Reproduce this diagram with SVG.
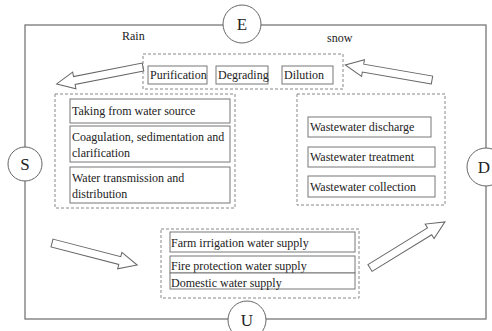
<svg xmlns="http://www.w3.org/2000/svg" width="492" height="331" viewBox="0 0 492 331">
<style>
  text { font-family: "Liberation Serif", "Times New Roman", serif; fill: #222; }
  .t { font-size: 12px; }
  .big { font-size: 17px; text-anchor: middle; }
  .box { fill: #fff; stroke: #777; stroke-width: 1; }
  .dash { fill: none; stroke: #888; stroke-width: 1; stroke-dasharray: 3 2; }
  .circ { fill: #fff; stroke: #666; stroke-width: 1; }
  .arr { fill: #fff; stroke: #666; stroke-width: 1; }
</style>
<defs>
  <polygon id="arrow" points="0,-4 70,-4 70,-8.5 88,0 70,8.5 70,4 0,4"/>
</defs>
<rect width="492" height="331" fill="#fff"/>
<g id="frame">
  <rect x="25" y="25" width="461" height="294" fill="none" stroke="#777" stroke-width="1.3"/>
</g>
<g id="connectors">
  <use href="#arrow" class="arr" transform="translate(143,67) rotate(168.9)"/>
  <use href="#arrow" class="arr" transform="translate(432,80) rotate(-170.2)"/>
  <use href="#arrow" class="arr" transform="translate(52,243) rotate(14.5)"/>
  <use href="#arrow" class="arr" transform="translate(370,268) rotate(-31.6)"/>
</g>
<g id="node-E">
  <circle class="circ" cx="242" cy="24" r="19"/>
  <text class="big" x="242" y="30">E</text>
</g>
<g id="node-S">
  <circle class="circ" cx="25" cy="164" r="17"/>
  <text class="big" x="25" y="170">S</text>
</g>
<g id="node-D">
  <circle class="circ" cx="486" cy="167" r="19"/>
  <text class="big" x="484" y="173">D</text>
</g>
<g id="node-U">
  <circle class="circ" cx="247" cy="320" r="19"/>
  <text class="big" x="247" y="326">U</text>
</g>
<g id="label-rain"><text class="t" x="122" y="40">Rain</text></g>
<g id="label-snow"><text class="t" x="327" y="42">snow</text></g>
<g id="group-top">
  <rect class="dash" x="143" y="54" width="200" height="35"/>
  <rect class="box" x="148" y="66" width="59" height="18"/>
  <text class="t" x="150" y="79">Purification</text>
  <rect class="box" x="216" y="66" width="52" height="18"/>
  <text class="t" x="218" y="79">Degrading</text>
  <rect class="box" x="282" y="66" width="51" height="18"/>
  <text class="t" x="284" y="79">Dilution</text>
</g>
<g id="group-left">
  <rect class="dash" x="55" y="94" width="180" height="114"/>
  <rect class="box" x="70" y="99" width="160" height="24"/>
  <text class="t" x="72" y="115">Taking from water source</text>
  <rect class="box" x="70" y="126" width="160" height="36"/>
  <text class="t" x="72" y="141">Coagulation, sedimentation and</text>
  <text class="t" x="72" y="157">clarification</text>
  <rect class="box" x="70" y="167" width="160" height="36"/>
  <text class="t" x="72" y="182">Water transmission and</text>
  <text class="t" x="72" y="198">distribution</text>
</g>
<g id="group-right">
  <rect class="dash" x="297" y="94" width="148" height="111"/>
  <rect class="box" x="308" y="117" width="123" height="20"/>
  <text class="t" x="310" y="131">Wastewater discharge</text>
  <rect class="box" x="308" y="147" width="127" height="20"/>
  <text class="t" x="310" y="161">Wastewater treatment</text>
  <rect class="box" x="308" y="176" width="127" height="21"/>
  <text class="t" x="310" y="191">Wastewater collection</text>
</g>
<g id="group-bottom">
  <rect class="dash" x="161" y="229" width="198" height="69"/>
  <rect class="box" x="170" y="232" width="185" height="20"/>
  <text class="t" x="171" y="247">Farm irrigation water supply</text>
  <rect class="box" x="170" y="256" width="185" height="17"/>
  <text class="t" x="171" y="270">Fire protection water supply</text>
  <rect class="box" x="170" y="273" width="185" height="16"/>
  <text class="t" x="171" y="287">Domestic water supply</text>
</g>
</svg>
